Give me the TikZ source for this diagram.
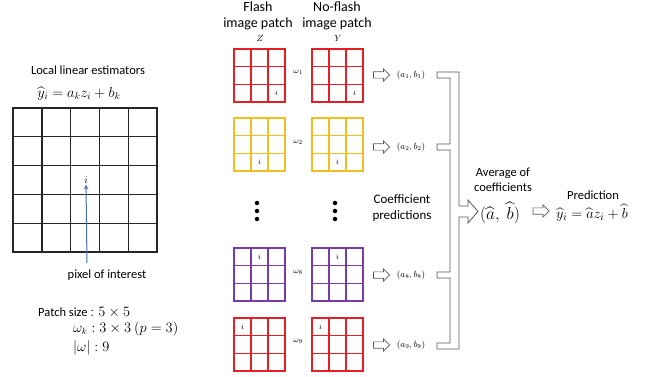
\documentclass[tikz,border=0pt]{standalone}
\usepackage[no-math]{fontspec}
\setmainfont{Carlito}
\usepackage{amsmath}
\usetikzlibrary{shapes.arrows,arrows.meta}
\definecolor{pred}{RGB}{232,30,36}
\definecolor{pyel}{RGB}{245,190,30}
\definecolor{ppur}{RGB}{120,60,170}
\definecolor{bgray}{RGB}{85,85,85}
\definecolor{agray}{RGB}{90,90,90}
\definecolor{pblue}{RGB}{70,110,180}
\tikzset{
  lbl/.style={font=\fontsize{12.5}{15}\selectfont, align=center, inner sep=0pt},
  hdr/.style={font=\fontsize{14}{16}\selectfont, align=center, inner sep=0pt},
  tiny/.style={font=\fontsize{8.5}{9}\selectfont, inner sep=0pt},
  small/.style={font=\fontsize{9}{10}\selectfont, inner sep=0pt},
  harrow/.style={single arrow, draw=agray, line width=0.7pt, minimum height=16pt, single arrow head extend=3pt, inner sep=2.8pt, fill=white},
  gridline/.style={line width=1.4pt, draw=black!85, line cap=rect},
  patchline/.style={line width=1.5pt, line cap=rect},
  dotnode/.style={circle, fill=black, inner sep=0pt, minimum size=4.5pt},
}
\newcommand{\mypatch}[6]{%
  \node[inner sep=0pt, minimum width=51pt, minimum height=53pt, anchor=north west] (#1) at (#2,#3) {};
  \foreach \k in {0,1,2,3}{
    \draw[patchline, #4] (#2+\k*17,#3) -- (#2+\k*17,#3+53);
    \draw[patchline, #4] (#2,#3+\k*53/3) -- (#2+51,#3+\k*53/3);
  }
  \node[tiny] (#1-i) at (#2+8.5+17*#5, #3+8.6+17.67*#6) {$i$};
}
\begin{document}
\begin{tikzpicture}[x=1pt,y=-1pt]
\useasboundingbox (0,0) rectangle (645,377);
% left part
\node[lbl] (lle) at (88,70) {Local linear estimators};
\node[font=\fontsize{14.5}{16}\selectfont, inner sep=0pt] (eq) at (79,94) {$\widehat{y}_i = a_k z_i + b_k$};
\foreach \k in {0,...,5} {
  \draw[gridline] (13+\k*28.8,108) -- (13+\k*28.8,252);
  \draw[gridline] (13,108+\k*28.8) -- (157,108+\k*28.8);
}
\node[font=\fontsize{10}{11}\selectfont, inner sep=1pt] (poi) at (86,180) {$i$};
\coordinate (poitail) at (87,263);
\draw[pblue, line width=1pt, -{Stealth[length=5pt,width=4.5pt]}] (poitail) -- (poi.south);
\node[lbl] (poitext) at (107,275) {pixel of interest};
\node[lbl, anchor=base west] (ps) at (38,316) {Patch size {\fontsize{13.5}{15}\selectfont$: 5\times 5$}};
\node[font=\fontsize{13.5}{15}\selectfont, inner sep=0pt, anchor=base west] (wk) at (73,332) {$\omega_k : 3\times 3\ (p=3)$};
\node[font=\fontsize{13.5}{15}\selectfont, inner sep=0pt, anchor=base west] (wn) at (73,351) {$|\omega| : 9$};
% headers
\node[hdr] (fl) at (258,16) {Flash\\image patch};
\node[hdr] (nf) at (337,16) {No-flash\\image patch};
\node[small] (zz) at (260,38) {$Z$};
\node[small] (yy) at (338,38) {$Y$};
% patches
\mypatch{p1}{234}{49}{pred}{2}{2}
\mypatch{q1}{312}{49}{pred}{2}{2}
\mypatch{p2}{234}{118}{pyel}{1}{2}
\mypatch{q2}{312}{118}{pyel}{1}{2}
\mypatch{p8}{234}{248}{ppur}{1}{0}
\mypatch{q8}{312}{248}{ppur}{1}{0}
\mypatch{p9}{234}{318}{pred}{0}{0}
\mypatch{q9}{312}{318}{pred}{0}{0}
\node[tiny] (w1) at (298,72) {$\omega_1$};
\node[tiny] (w2) at (298,142) {$\omega_2$};
\node[tiny] (w8) at (298,272) {$\omega_8$};
\node[tiny] (w9) at (298,341) {$\omega_9$};
% dots
\foreach \j/\yy in {1/203,2/211,3/219} {
  \node[dotnode] (dl\j) at (257,\yy) {};
  \node[dotnode] (dr\j) at (335,\yy) {};
}
% coefficient arrows
\node[harrow] (c1) at (380,75) {};
\node[harrow] (c2) at (380,147) {};
\node[harrow] (c8) at (380,275) {};
\node[harrow] (c9) at (380,345) {};
\node[small] (ab1) at (411,75) {$(a_1,b_1)$};
\node[small] (ab2) at (411,147) {$(a_2,b_2)$};
\node[small] (ab8) at (411,275) {$(a_8,b_8)$};
\node[small] (ab9) at (411,345) {$(a_9,b_9)$};
\node[font=\fontsize{13}{16}\selectfont, align=center, inner sep=0pt] (cp) at (402,208) {Coefficient\\predictions};
% bracket
\draw[bgray, line width=0.8pt, line join=miter] (437,72) -- (459,72) -- (459,206) -- (468,206) -- (468,200) -- (478,211.5) -- (468,223) -- (468,217) -- (459,217) -- (459,349) -- (437,349) -- (437,343) -- (450,343) -- (450,278) -- (437,278) -- (437,272) -- (450,272) -- (450,150) -- (437,150) -- (437,144) -- (450,144) -- (450,78) -- (437,78) -- cycle;
% right part
\node[lbl] (avg) at (503,180) {Average of\\coefficients};
\node[font=\fontsize{18}{20}\selectfont, inner sep=0pt] (ab) at (500,213) {$(\widehat{a},\ \widehat{b})$};
\node[harrow] (ar2) at (539.5,211) {};
\node[lbl] (pr) at (593,195) {Prediction};
\node[font=\fontsize{15.5}{18}\selectfont, inner sep=0pt] (yh) at (592,213) {$\widehat{y}_i = \widehat{a}z_i + \widehat{b}$};
\end{tikzpicture}
\end{document}
